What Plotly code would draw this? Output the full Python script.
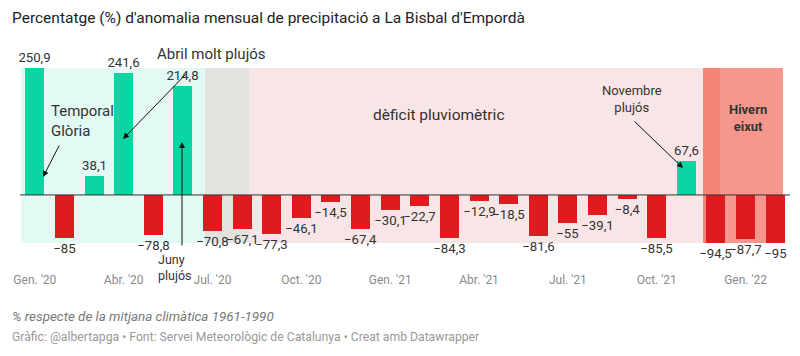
import plotly.graph_objects as go

# ---- data ----
months = ["2020-01", "2020-02", "2020-03", "2020-04", "2020-05", "2020-06",
          "2020-07", "2020-08", "2020-09", "2020-10", "2020-11", "2020-12",
          "2021-01", "2021-02", "2021-03", "2021-04", "2021-05", "2021-06",
          "2021-07", "2021-08", "2021-09", "2021-10", "2021-11", "2021-12",
          "2022-01", "2022-02"]
anomaly = [250.9, -85, 38.1, 241.6, -78.8, 214.8,
           -70.8, -67.1, -77.3, -46.1, -14.5, -67.4,
           -30.1, -22.7, -84.3, -12.9, -18.5, -81.6,
           -55, -39.1, -8.4, -85.5, 67.6, -94.5,
           -87.7, -95]
tick_months = ["2020-01", "2020-04", "2020-07", "2020-10", "2021-01",
               "2021-04", "2021-07", "2021-10", "2022-01"]
tick_labels = ["Gen. '20", "Abr. '20", "Jul. '20", "Oct. '20", "Gen. '21",
               "Abr. '21", "Jul. '21", "Oct. '21", "Gen. '22"]

GREEN = "#0ad6a4"
RED = "#e01b1f"
FONT = "Roboto"


def fmt(v):
    s = f"{abs(v):g}".replace(".", ",")
    return ("\u2212" + s) if v < 0 else s


W, H = 800, 356
ML, MR, MT, MB = 20, 10, 68, 113
PW = W - ML - MR
PH = H - MT - MB
YMIN, YMAX = -95, 250.9
N = len(months)


def px2x(px):
    return (px - ML) / (PW / N) - 0.5


def py2y(py):
    return YMIN + (MT + PH - py) / PH * (YMAX - YMIN)


def py2paper(py):
    return (MT + PH - py) / PH


def px2paper(px):
    return (px - ML) / PW


fig = go.Figure()
fig.add_trace(go.Bar(
    x=months, y=anomaly,
    marker=dict(color=[GREEN if v > 0 else RED for v in anomaly], line=dict(width=0)),
    width=0.64,
    text=[fmt(v) for v in anomaly],
    textposition="outside",
    textfont=dict(family=FONT, size=13.2, color="#333333"),
    constraintext="none",
    cliponaxis=False,
    hoverinfo="skip",
))

# background ranges
ranges = [
    (21, 205, "#e3f9f3"),
    (205, 249, "#e1e3df"),
    (249, 703, "#f8e5e5"),
    (703, 720, "#f28578"),
    (720, 783, "#f5978c"),
]
shapes = []
for a, b, c in ranges:
    shapes.append(dict(type="rect", xref="x", yref="paper", x0=px2x(a), x1=px2x(b),
                       y0=0, y1=1, fillcolor=c, line=dict(width=0), layer="below"))
shapes.append(dict(type="line", xref="paper", yref="y", x0=0, x1=1, y0=0, y1=0,
                   line=dict(color="#333333", width=1)))

annotations = []


def arrow(tx, ty, hx, hy):
    annotations.append(dict(
        x=px2x(hx), y=py2y(hy), ax=px2x(tx), ay=py2y(ty), xref="x", yref="y",
        axref="x", ayref="y", text="", showarrow=True, arrowhead=2, arrowsize=1.2,
        arrowwidth=1, arrowcolor="#111111"))


def label(text, px, py, size=15, align="center", xanchor="center", bold=False,
          color="#333333", italic=False):
    if bold:
        text = "<b>" + text + "</b>"
    if italic:
        text = "<i>" + text + "</i>"
    annotations.append(dict(
        x=px2paper(px), y=py2paper(py), xref="paper", yref="paper", text=text,
        showarrow=False, font=dict(family=FONT, size=size, color=color), align=align,
        xanchor=xanchor, yanchor="middle"))


label("Temporal<br>Glòria", 49, 121, size=15, align="left", xanchor="left")
arrow(60, 144, 43, 177)
label("Abril molt plujós", 211, 54, size=15)
arrow(187, 73, 123, 139)
label("Juny<br>plujós", 156, 267, size=12.5, align="left", xanchor="left")
arrow(182, 247, 182, 142)
label("Novembre<br>plujós", 632, 99, size=13)
arrow(633, 120, 683, 168)
label("dèficit pluviomètric", 439, 115, size=15.5)
label("Hivern<br>eixut", 748, 118, size=13, bold=True)

# title and footer
label("Percentatge (%) d'anomalia mensual de precipitació a La Bisbal d'Empordà",
      10, 18, size=15.5, align="left", xanchor="left", color="#222222")
label("% respecte de la mitjana climàtica 1961-1990", 10, 316, size=13.4,
      align="left", xanchor="left", color="#777777", italic=True)
label("Gràfic: @albertapga • Font: Servei Meteorològic de Catalunya • Creat amb Datawrapper",
      10, 337, size=12.2, align="left", xanchor="left", color="#999999")

fig.update_layout(
    width=W, height=H,
    margin=dict(l=ML, r=MR, t=MT, b=MB, pad=0),
    paper_bgcolor="white", plot_bgcolor="white",
    showlegend=False,
    bargap=0,
    shapes=shapes, annotations=annotations,
    xaxis=dict(type="category", categoryorder="array", categoryarray=months,
               range=[-0.5, N - 0.5], tickvals=tick_months, ticktext=tick_labels,
               showgrid=False, zeroline=False, showline=False, ticks="",
               tickfont=dict(family=FONT, size=12, color="#8a8a8a"),
               ticklabelstandoff=28, fixedrange=True),
    yaxis=dict(range=[YMIN, YMAX], visible=False, showgrid=False, zeroline=False,
               fixedrange=True),
    font=dict(family=FONT),
)

fig.write_html("out.html", config={"displayModeBar": False},
               post_script="document.body.style.margin='0';")
